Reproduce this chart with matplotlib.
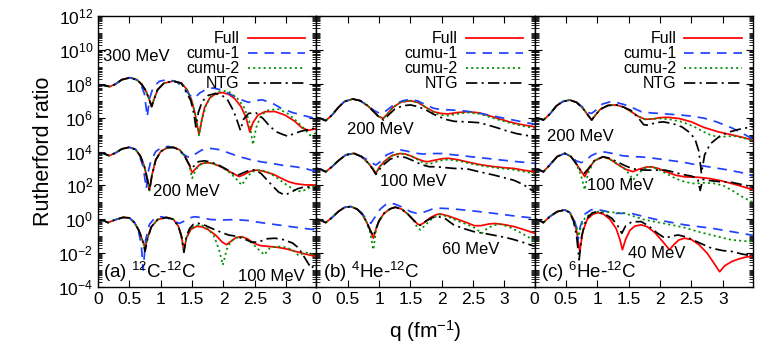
import numpy as np
import matplotlib.pyplot as plt
from matplotlib.ticker import LogLocator, FixedLocator, FuncFormatter, NullFormatter

plt.rcParams['font.family'] = ['Liberation Sans', 'DejaVu Sans']
plt.rcParams['mathtext.fontset'] = 'custom'
plt.rcParams['mathtext.rm'] = 'Liberation Sans'
plt.rcParams['mathtext.it'] = 'Liberation Sans:italic'

# curves: (q [fm^-1], log10 of ratio relative to the offset of its group)
# ---------------- (a) 12C-12C ----------------
a300_full = [(0.00, -0.07), (0.08, -0.08), (0.19, -0.17), (0.28, -0.02), (0.38, 0.24), (0.51, 0.36), (0.62, 0.24),
             (0.70, -0.05), (0.76, -0.40), (0.81, -0.85), (0.855, -1.35), (0.89, -0.95), (0.95, -0.35), (1.05, 0.03),
             (1.20, 0.16), (1.33, 0.03), (1.42, -0.35), (1.49, -0.95), (1.55, -1.8), (1.61, -3.0), (1.65, -2.2),
             (1.70, -1.4), (1.78, -0.85), (1.88, -0.58), (1.98, -0.52), (2.08, -0.62), (2.18, -0.88), (2.28, -1.35),
             (2.36, -2.0), (2.42, -2.85), (2.47, -2.3), (2.55, -1.85), (2.66, -1.65), (2.82, -1.64), (2.98, -1.85),
             (3.13, -2.2), (3.25, -2.6), (3.35, -2.75), (3.48, -2.65)]
a300_cumu1 = [(0.00, -0.07), (0.08, -0.08), (0.19, -0.17), (0.28, -0.02), (0.38, 0.24), (0.51, 0.36), (0.62, 0.22),
              (0.69, -0.1), (0.74, -0.6), (0.785, -1.95), (0.82, -0.9), (0.88, -0.2), (0.98, 0.15), (1.12, 0.25),
              (1.26, 0.1), (1.38, -0.3), (1.47, -0.7), (1.54, -0.85), (1.62, -0.55), (1.72, -0.33), (1.83, -0.25),
              (1.95, -0.35), (2.1, -0.6), (2.25, -0.9), (2.4, -1.1), (2.5, -1.0), (2.62, -0.95), (2.78, -1.15),
              (2.92, -1.45), (3.1, -1.7), (3.3, -1.9), (3.48, -2.05)]
a300_cumu2 = a300_full[:19] + [(1.61, -3.05), (1.66, -2.1), (1.72, -1.3), (1.80, -0.75), (1.90, -0.48), (2.0, -0.42),
                               (2.1, -0.5), (2.22, -0.85), (2.33, -1.4), (2.41, -2.2), (2.47, -3.6), (2.52, -2.6),
                               (2.60, -1.85), (2.72, -1.55), (2.88, -1.5), (3.02, -1.75), (3.18, -2.25), (3.30, -2.7),
                               (3.38, -3.05), (3.48, -2.9)]
a300_ntg = a300_full[:16] + [(1.48, -1.0), (1.53, -1.8), (1.56, -2.55), (1.60, -1.7), (1.66, -1.05), (1.76, -0.68),
                             (1.87, -0.58), (1.97, -0.66), (2.07, -0.98), (2.16, -1.6), (2.22, -2.2), (2.27, -2.75),
                             (2.32, -2.1), (2.40, -1.75), (2.52, -1.72), (2.63, -2.05), (2.75, -2.55), (2.85, -2.85),
                             (2.95, -3.0), (3.03, -3.1), (3.12, -2.95), (3.24, -2.8), (3.36, -2.7), (3.48, -2.6)]

a200_full = [(0.00, -0.08), (0.08, -0.1), (0.18, -0.25), (0.28, -0.08), (0.38, 0.15), (0.50, 0.25), (0.60, 0.12),
             (0.68, -0.3), (0.74, -0.9), (0.79, -1.7), (0.82, -2.3), (0.86, -1.4), (0.92, -0.5), (1.0, 0.0),
             (1.1, 0.22), (1.2, 0.25), (1.3, 0.1), (1.38, -0.25), (1.45, -0.75), (1.50, -1.25), (1.56, -1.0),
             (1.63, -0.75), (1.72, -0.66), (1.82, -0.7), (1.95, -0.88), (2.08, -1.15), (2.18, -1.35), (2.25, -1.48),
             (2.32, -1.38), (2.42, -1.18), (2.52, -1.1), (2.62, -1.15), (2.8, -1.35), (2.92, -1.58), (3.05, -1.8),
             (3.15, -1.9), (3.3, -1.97), (3.48, -1.98)]
a200_cumu1 = [(0.00, -0.08), (0.08, -0.1), (0.18, -0.25), (0.28, -0.08), (0.38, 0.15), (0.50, 0.25), (0.60, 0.12),
              (0.66, -0.25), (0.72, -0.9), (0.77, -2.2), (0.80, -1.2), (0.84, -0.6), (0.92, 0.0), (1.02, 0.25),
              (1.12, 0.3), (1.22, 0.2), (1.32, -0.05), (1.42, -0.3), (1.48, -0.35), (1.55, -0.15), (1.65, 0.08),
              (1.8, 0.18), (1.95, 0.1), (2.08, -0.08), (2.25, -0.3), (2.45, -0.5), (2.62, -0.62), (2.77, -0.7),
              (2.95, -0.82), (3.14, -0.9), (3.3, -1.0), (3.48, -1.19)]
a200_cumu2 = a200_full[:19] + [(1.50, -1.58), (1.56, -1.05), (1.64, -0.75), (1.74, -0.66), (1.85, -0.72),
                               (1.97, -0.92), (2.1, -1.25), (2.2, -1.6), (2.29, -1.98), (2.36, -1.6), (2.45, -1.2),
                               (2.58, -1.08), (2.7, -1.2), (2.85, -1.55), (3.0, -1.95), (3.12, -2.25), (3.24, -2.37),
                               (3.34, -2.2), (3.42, -2.05), (3.48, -2.1)]
a200_ntg = a200_full[:18] + [(1.44, -0.7), (1.49, -1.0), (1.53, -0.85), (1.60, -0.6), (1.70, -0.55), (1.80, -0.62),
                             (1.92, -0.8), (2.05, -1.05), (2.15, -1.3), (2.23, -1.4), (2.32, -1.25), (2.42, -1.1),
                             (2.50, -1.08), (2.6, -1.3), (2.75, -1.9), (2.88, -2.4), (2.98, -2.57), (3.08, -2.4),
                             (3.18, -2.2), (3.3, -2.08), (3.40, -2.1), (3.48, -2.2)]

a100_full = [(0.00, -0.04), (0.08, -0.06), (0.16, -0.2), (0.26, -0.05), (0.40, 0.11), (0.50, 0.08), (0.58, -0.2),
             (0.65, -0.65), (0.71, -1.25), (0.75, -1.7), (0.79, -1.1), (0.85, -0.45), (0.95, -0.02), (1.09, 0.11),
             (1.2, 0.0), (1.28, -0.4), (1.33, -1.0), (1.37, -1.85), (1.41, -1.1), (1.48, -0.6), (1.57, -0.42),
             (1.65, -0.44), (1.75, -0.6), (1.88, -0.95), (1.98, -1.35), (2.05, -1.5), (2.12, -1.3), (2.2, -1.08),
             (2.29, -1.03), (2.38, -1.15), (2.48, -1.4), (2.58, -1.55), (2.70, -1.6), (2.85, -1.65), (3.0, -1.75),
             (3.15, -1.9), (3.3, -2.05), (3.48, -2.2)]
a100_cumu1 = [(0.00, -0.04), (0.08, -0.06), (0.16, -0.2), (0.26, -0.05), (0.40, 0.11), (0.50, 0.08), (0.58, -0.18),
              (0.64, -0.6), (0.69, -1.5), (0.72, -3.0), (0.76, -1.2), (0.82, -0.3), (0.9, 0.05), (1.01, 0.15),
              (1.12, 0.05), (1.22, -0.15), (1.3, -0.24), (1.38, -0.1), (1.46, 0.08), (1.54, 0.15), (1.65, 0.1),
              (1.8, -0.02), (2.0, -0.04), (2.2, -0.02), (2.4, -0.08), (2.6, -0.2), (2.8, -0.3), (3.0, -0.4),
              (3.2, -0.5), (3.48, -0.63)]
a100_cumu2 = a100_full[:17] + [(1.37, -1.95), (1.41, -1.1), (1.48, -0.55), (1.57, -0.36), (1.65, -0.34),
                               (1.75, -0.55), (1.85, -1.0), (1.93, -1.8), (1.99, -2.7), (2.05, -1.8), (2.12, -1.3),
                               (2.2, -1.1), (2.3, -1.05), (2.42, -1.3), (2.55, -1.75), (2.65, -2.1), (2.74, -1.7),
                               (2.85, -1.6), (2.98, -1.65), (3.1, -1.8), (3.2, -2.15), (3.3, -1.95), (3.4, -2.05),
                               (3.48, -2.2)]
a100_ntg = a100_full[:9] + [(0.75, -1.9), (0.79, -1.15)] + a100_full[11:17] + [
    (1.37, -1.95), (1.41, -1.0), (1.46, -0.55), (1.52, -0.3), (1.6, -0.24), (1.7, -0.35), (1.82, -0.55),
    (1.95, -0.75), (2.08, -0.93), (2.2, -1.0), (2.32, -1.15), (2.45, -1.35), (2.55, -1.35), (2.7, -1.15),
    (2.82, -1.12), (2.95, -1.2), (3.1, -1.4), (3.2, -1.7), (3.3, -2.3), (3.40, -2.9), (3.48, -2.6)]

# ---------------- (b) 4He-12C ----------------
b200_full = [(0.0, 0.0), (0.07, -0.05), (0.15, -0.18), (0.25, 0.15), (0.35, 0.6), (0.45, 0.95), (0.58, 1.1),
             (0.7, 1.0), (0.82, 0.7), (0.93, 0.3), (1.0, 0.05), (1.07, -0.04), (1.13, 0.2), (1.22, 0.6),
             (1.35, 0.92), (1.5, 1.0), (1.62, 0.9), (1.75, 0.6), (1.87, 0.35), (1.98, 0.25), (2.1, 0.22),
             (2.25, 0.3), (2.42, 0.35), (2.6, 0.28), (2.75, 0.12), (2.9, -0.05), (3.05, -0.22), (3.2, -0.36),
             (3.35, -0.46), (3.48, -0.54)]
b200_cumu1 = b200_full[:9] + [(0.93, 0.4), (1.0, 0.27), (1.05, 0.25), (1.13, 0.45), (1.25, 0.8), (1.38, 1.0),
                              (1.5, 1.08), (1.62, 0.98), (1.75, 0.75), (1.87, 0.55), (1.98, 0.48), (2.15, 0.45),
                              (2.35, 0.4), (2.55, 0.3), (2.75, 0.15), (2.95, 0.0), (3.15, -0.15), (3.35, -0.3),
                              (3.48, -0.38)]
b200_cumu2 = b200_full[:18] + [(1.87, 0.3), (1.98, 0.15), (2.1, 0.12), (2.25, 0.22), (2.42, 0.3), (2.6, 0.22),
                               (2.75, 0.05), (2.9, -0.12), (3.05, -0.28), (3.2, -0.42), (3.35, -0.54), (3.48, -0.62)]
b200_ntg = b200_full[:10] + [(1.0, 0.02), (1.07, -0.14), (1.15, 0.15), (1.25, 0.5), (1.38, 0.7), (1.5, 0.75),
                             (1.62, 0.65), (1.75, 0.45), (1.87, 0.2), (1.98, 0.02), (2.08, -0.12), (2.2, -0.22),
                             (2.4, -0.25), (2.6, -0.3), (2.75, -0.45), (2.9, -0.62), (3.05, -0.8), (3.2, -0.95),
                             (3.35, -1.05), (3.48, -1.12)]

b100_full = [(0.0, 0.0), (0.07, -0.05), (0.15, -0.2), (0.25, 0.1), (0.35, 0.45), (0.47, 0.8), (0.6, 0.89),
             (0.72, 0.7), (0.82, 0.35), (0.9, 0.0), (0.95, -0.29), (1.0, 0.05), (1.08, 0.4), (1.2, 0.75),
             (1.33, 0.88), (1.42, 0.85), (1.52, 0.72), (1.62, 0.55), (1.72, 0.42), (1.78, 0.4), (1.88, 0.48),
             (2.0, 0.57), (2.1, 0.6), (2.25, 0.52), (2.45, 0.35), (2.62, 0.22), (2.8, 0.12), (3.0, 0.04),
             (3.15, 0.0), (3.3, -0.1), (3.48, -0.2)]
b100_cumu1 = b100_full[:8] + [(0.82, 0.5), (0.9, 0.3), (0.95, 0.2), (1.02, 0.4), (1.12, 0.8), (1.25, 1.0),
                              (1.34, 1.09), (1.45, 1.02), (1.58, 0.9), (1.7, 0.85), (1.85, 0.88), (2.0, 0.88),
                              (2.2, 0.8), (2.45, 0.7), (2.7, 0.6), (2.94, 0.5), (3.2, 0.4), (3.48, 0.3)]
b100_cumu2 = b100_full[:17] + [(1.72, 0.3), (1.8, 0.25), (1.9, 0.38), (2.02, 0.5), (2.12, 0.52), (2.3, 0.42),
                               (2.5, 0.25), (2.7, 0.12), (2.9, 0.02), (3.1, -0.05), (3.3, -0.18), (3.48, -0.3)]
b100_ntg = b100_full[:9] + [(0.9, -0.05), (0.95, -0.35), (1.05, 0.15), (1.18, 0.55), (1.3, 0.7), (1.42, 0.65),
                            (1.55, 0.45), (1.68, 0.22), (1.8, 0.1), (1.92, 0.1), (2.05, 0.05), (2.2, 0.0),
                            (2.4, -0.02), (2.6, -0.2), (2.83, -0.39), (3.0, -0.55), (3.15, -0.7), (3.3, -0.95),
                            (3.48, -1.4)]

b60_full = [(0.0, 0.0), (0.07, -0.05), (0.15, -0.2), (0.25, 0.1), (0.35, 0.45), (0.45, 0.7), (0.55, 0.75),
            (0.65, 0.6), (0.73, 0.3), (0.8, -0.15), (0.86, -0.65), (0.91, -1.12), (0.95, -0.6), (1.0, -0.1),
            (1.08, 0.35), (1.18, 0.62), (1.26, 0.71), (1.36, 0.6), (1.46, 0.3), (1.55, -0.05), (1.62, -0.3),
            (1.66, -0.33), (1.72, -0.2), (1.82, 0.1), (1.92, 0.28), (1.98, 0.31), (2.1, 0.2), (2.25, 0.0),
            (2.4, -0.2), (2.52, -0.38), (2.62, -0.38), (2.75, -0.28), (2.85, -0.25), (3.0, -0.32), (3.15, -0.43),
            (3.3, -0.6), (3.48, -0.83)]
b60_cumu1 = b60_full[:8] + [(0.72, 0.4), (0.8, 0.0), (0.87, -0.24), (0.93, 0.1), (1.02, 0.6), (1.13, 0.94),
                            (1.25, 0.9), (1.38, 0.7), (1.5, 0.45), (1.6, 0.35), (1.7, 0.4), (1.85, 0.6),
                            (1.98, 0.65), (2.15, 0.62), (2.35, 0.55), (2.6, 0.45), (2.83, 0.35), (3.1, 0.22),
                            (3.48, 0.06)]
b60_cumu2 = b60_full[:10] + [(0.86, -0.8), (0.91, -1.8), (0.95, -0.7)] + b60_full[13:20] + [
    (1.61, -0.5), (1.66, -0.63), (1.75, -0.3), (1.85, 0.05), (1.97, 0.28), (2.1, 0.15), (2.25, -0.1),
    (2.4, -0.3), (2.52, -0.5), (2.64, -0.83), (2.72, -0.55), (2.83, -0.35), (2.95, -0.3), (3.1, -0.5),
    (3.26, -0.8), (3.38, -1.05), (3.48, -1.3)]
b60_ntg = b60_full[:11] + [(0.91, -1.0), (0.95, -0.55)] + b60_full[13:20] + [
    (1.62, -0.3), (1.66, -0.35), (1.75, -0.1), (1.85, 0.1), (1.95, 0.15), (2.05, 0.05), (2.19, -0.33),
    (2.35, -0.55), (2.51, -0.73), (2.7, -0.85), (2.94, -1.02), (3.1, -1.15), (3.26, -1.32), (3.48, -1.6)]

# ---------------- (c) 6He-12C ----------------
c200_full = [(0.0, 0.0), (0.07, -0.05), (0.14, -0.14), (0.24, 0.2), (0.35, 0.7), (0.45, 0.95), (0.56, 1.04),
             (0.67, 0.9), (0.77, 0.55), (0.85, 0.15), (0.91, -0.14), (0.97, 0.15), (1.05, 0.5), (1.17, 0.72),
             (1.3, 0.75), (1.42, 0.62), (1.54, 0.35), (1.65, 0.08), (1.76, -0.1), (1.88, -0.08), (2.0, 0.0),
             (2.12, 0.02), (2.3, -0.05), (2.5, -0.25), (2.7, -0.58), (2.92, -0.83), (3.1, -0.98), (3.3, -1.15),
             (3.48, -1.33)]
c200_cumu1 = c200_full[:8] + [(0.77, 0.6), (0.85, 0.3), (0.91, 0.25), (0.98, 0.45), (1.08, 0.8), (1.2, 0.93),
                              (1.3, 0.9), (1.42, 0.78), (1.54, 0.62), (1.7, 0.35), (1.85, 0.28), (1.97, 0.25),
                              (2.15, 0.2), (2.34, 0.15), (2.52, 0.08), (2.71, -0.04), (2.9, -0.25), (3.14, -0.6),
                              (3.3, -0.9), (3.48, -1.27)]
c200_cumu2 = c200_full[:20] + [(2.0, -0.05), (2.15, -0.1), (2.35, -0.25), (2.55, -0.55), (2.7, -0.85),
                               (2.82, -1.05), (2.95, -1.15), (3.08, -1.1), (3.2, -1.1), (3.33, -1.2), (3.48, -1.36)]
c200_ntg = c200_full[:16] + [(1.54, 0.42), (1.65, 0.0), (1.74, -0.42), (1.82, -0.45), (1.92, -0.3), (2.05, -0.25),
                             (2.2, -0.35), (2.35, -0.55), (2.48, -0.9), (2.56, -1.3), (2.62, -2.0), (2.66, -3.3),
                             (2.71, -2.2), (2.8, -1.55), (2.95, -1.1), (3.1, -0.85), (3.25, -0.7), (3.48, -0.53)]

c100_full = [(0.0, -0.05), (0.07, -0.08), (0.14, -0.2), (0.24, 0.2), (0.36, 0.7), (0.48, 0.89), (0.58, 0.7),
             (0.66, 0.3), (0.73, -0.1), (0.8, -0.48), (0.86, -0.05), (0.95, 0.45), (1.09, 0.69), (1.2, 0.55),
             (1.32, 0.25), (1.45, -0.05), (1.57, -0.19), (1.66, -0.05), (1.78, 0.08), (1.86, 0.1), (1.97, 0.0),
             (2.1, -0.2), (2.25, -0.4), (2.4, -0.5), (2.6, -0.52), (2.8, -0.6), (3.0, -0.75), (3.2, -0.95),
             (3.48, -1.25)]
c100_cumu1 = c100_full[:6] + [(0.58, 0.72), (0.66, 0.45), (0.74, 0.35), (0.8, 0.4), (0.9, 0.75), (1.02, 0.95),
                              (1.12, 0.97), (1.25, 0.88), (1.4, 0.75), (1.55, 0.7), (1.7, 0.68), (1.9, 0.6),
                              (2.1, 0.5), (2.35, 0.38), (2.6, 0.2), (2.85, 0.05), (3.1, -0.1), (3.3, -0.25),
                              (3.48, -0.45)]
c100_cumu2 = c100_full[:8] + [(0.74, -0.4), (0.8, -1.27), (0.85, -0.3)] + c100_full[11:16] + [
    (1.52, -0.4), (1.57, -0.68), (1.62, -0.45), (1.68, -0.2), (1.78, 0.05), (1.87, 0.1), (1.97, -0.05),
    (2.1, -0.3), (2.25, -0.6), (2.4, -0.8), (2.55, -0.9), (2.7, -0.85), (2.85, -0.88), (3.0, -1.0),
    (3.15, -1.3), (3.3, -1.65), (3.48, -2.0)]
c100_ntg = c100_full[:9] + [(0.79, -0.3), (0.86, 0.0)] + c100_full[11:13] + [
    (1.2, 0.6), (1.32, 0.38), (1.45, 0.15), (1.55, 0.0), (1.65, -0.08), (1.8, -0.1), (1.95, -0.1),
    (2.08, -0.1), (2.2, -0.2), (2.35, -0.35), (2.5, -0.45), (2.6, -0.6), (2.64, -1.3), (2.68, -0.65),
    (2.8, -0.72), (2.95, -0.78), (3.14, -0.82), (3.3, -0.95), (3.48, -1.1)]

c40_full = [(0.0, 0.0), (0.07, -0.05), (0.14, -0.2), (0.24, 0.15), (0.36, 0.45), (0.48, 0.55), (0.56, 0.4),
            (0.62, 0.0), (0.67, -0.7), (0.72, -1.9), (0.77, -0.7), (0.84, 0.0), (0.93, 0.3), (1.01, 0.39),
            (1.1, 0.3), (1.2, 0.0), (1.3, -0.55), (1.36, -1.2), (1.4, -1.8), (1.45, -1.2), (1.52, -0.65),
            (1.6, -0.4), (1.7, -0.33), (1.8, -0.45), (1.92, -0.8), (2.05, -1.35), (2.15, -1.8), (2.22, -1.5),
            (2.3, -1.22), (2.39, -1.12), (2.5, -1.2), (2.62, -1.5), (2.75, -2.0), (2.86, -2.6), (2.95, -3.1),
            (3.03, -2.75), (3.14, -2.5), (3.25, -2.35), (3.35, -2.25), (3.48, -2.17)]
c40_cumu1 = c40_full[:7] + [(0.62, 0.1), (0.67, -0.5), (0.69, -1.3), (0.73, -0.4), (0.8, 0.3), (0.9, 0.55),
                            (0.95, 0.6), (1.1, 0.5), (1.28, 0.35), (1.54, 0.35), (1.75, 0.15), (1.97, -0.04),
                            (2.2, -0.2), (2.39, -0.33), (2.6, -0.43), (2.82, -0.53), (3.14, -0.73), (3.48, -0.95)]
c40_cumu2 = c40_full[:7] + [(0.62, -0.1), (0.67, -0.5), (0.70, -1.0), (0.74, -0.4), (0.8, 0.05), (0.88, 0.3),
                            (1.0, 0.45), (1.2, 0.42), (1.44, 0.35), (1.6, 0.15), (1.76, -0.04), (2.0, -0.2),
                            (2.18, -0.33), (2.4, -0.5), (2.6, -0.73), (2.92, -1.02), (3.14, -1.22), (3.48, -1.33)]
c40_ntg = c40_full[:7] + [(0.62, -0.1), (0.67, -1.0), (0.71, -2.4), (0.75, -1.0), (0.82, 0.0), (0.92, 0.38),
                          (1.0, 0.45), (1.1, 0.35), (1.23, 0.06), (1.32, -0.35), (1.39, -0.83), (1.45, -0.4),
                          (1.55, -0.15), (1.7, -0.14), (1.82, -0.4), (1.95, -0.8), (2.08, -1.12), (2.18, -1.0),
                          (2.29, -0.93), (2.42, -1.05), (2.6, -1.35), (2.82, -1.71), (3.0, -1.85), (3.14, -1.9),
                          (3.3, -2.05), (3.48, -2.17)]

# decade offsets of the three energy groups
offsets = [8, 4, 0]
offsets_bc = [6, 3, 0]

panels = [
    ([a300_full, a200_full, a100_full], [a300_cumu1, a200_cumu1, a100_cumu1],
     [a300_cumu2, a200_cumu2, a100_cumu2], [a300_ntg, a200_ntg, a100_ntg], offsets),
    ([b200_full, b100_full, b60_full], [b200_cumu1, b100_cumu1, b60_cumu1],
     [b200_cumu2, b100_cumu2, b60_cumu2], [b200_ntg, b100_ntg, b60_ntg], offsets_bc),
    ([c200_full, c100_full, c40_full], [c200_cumu1, c100_cumu1, c40_cumu1],
     [c200_cumu2, c100_cumu2, c40_cumu2], [c200_ntg, c100_ntg, c40_ntg], offsets_bc),
]

styles = [
    dict(label='Full', color='#ff0000', ls='-'),
    dict(label='cumu-1', color='#2040ff', ls=(0, (5.5, 4))),
    dict(label='cumu-2', color='#009000', ls=(0, (1.2, 1.8))),
    dict(label='NTG', color='black', ls=(0, (6.5, 2.5, 1.2, 2.5))),
]

energy_labels = [
    [('300 MeV', 0.023, 0.849), ('200 MeV', 0.252, 0.351), ('100 MeV', 0.641, 0.012)],
    [('200 MeV', 0.141, 0.583), ('100 MeV', 0.292, 0.391), ('60 MeV', 0.576, 0.140)],
    [('200 MeV', 0.055, 0.557), ('100 MeV', 0.238, 0.373), ('40 MeV', 0.426, 0.122)],
]
system_labels = ['(a) $^{12}$C-$^{12}$C', '(b) $^{4}$He-$^{12}$C', '(c) $^{6}$He-$^{12}$C']

fig = plt.figure(figsize=(7.63, 3.53), dpi=100)
left, bottom, width, height = 98 / 763, 66 / 353, 218.3 / 763, 271 / 353

for k, (full, cumu1, cumu2, ntg, offs) in enumerate(panels):
    ax = fig.add_axes([left + k * width, bottom, width, height])
    for st, group in zip(styles, [full, cumu1, cumu2, ntg]):
        for j, curve in enumerate(group):
            arr = np.array(curve)
            ax.plot(arr[:, 0], 10.0 ** (arr[:, 1] + offs[j]), color=st['color'], ls=st['ls'],
                    lw=1.25, label=st['label'] if j == 0 else None)
    ax.set_yscale('log')
    ax.set_xlim(0, 3.48)
    ax.set_ylim(1e-4, 1e12)
    ax.xaxis.set_major_locator(FixedLocator([0, 0.5, 1, 1.5, 2, 2.5, 3]))
    ax.xaxis.set_major_formatter(FuncFormatter(lambda v, p: '%g' % v))
    ax.yaxis.set_major_locator(FixedLocator([10.0 ** e for e in range(-4, 13, 2)]))
    ax.yaxis.set_minor_locator(LogLocator(base=10, subs=np.arange(1, 10), numticks=100))
    ax.yaxis.set_minor_formatter(NullFormatter())
    if k == 0:
        ax.yaxis.set_major_formatter(FuncFormatter(lambda v, p: '10$^{%d}$' % round(np.log10(v))))
        ax.set_ylabel('Rutherford ratio', fontsize=15.5, labelpad=3)
    else:
        ax.yaxis.set_major_formatter(NullFormatter())
    ax.tick_params(which='both', direction='in', top=True, right=True, labelsize=12.5)
    ax.tick_params(which='major', length=5, width=0.8)
    ax.tick_params(which='minor', length=3, width=0.6)
    for sp in ax.spines.values():
        sp.set_linewidth(1.0)
    ax.legend(loc='upper right', bbox_to_anchor=(1.0, 0.985), frameon=False, markerfirst=False,
              fontsize=11.5, handlelength=3.6, labelspacing=0.0, handletextpad=0.5, borderaxespad=0.3)
    for txt, tx, ty in energy_labels[k]:
        ax.text(tx, ty, txt, transform=ax.transAxes, fontsize=12, va='bottom' if ty < 0.05 else 'center')
    ax.text(0.023 if k == 0 else 0.031, 0.012, system_labels[k], transform=ax.transAxes, fontsize=13.5,
            va='bottom')

fig.text((98 + 753) / 2 / 763, 1 - 331 / 353, 'q (fm$^{-1}$)', fontsize=15, ha='center', va='center')

fig.savefig('out.png', dpi=100)
